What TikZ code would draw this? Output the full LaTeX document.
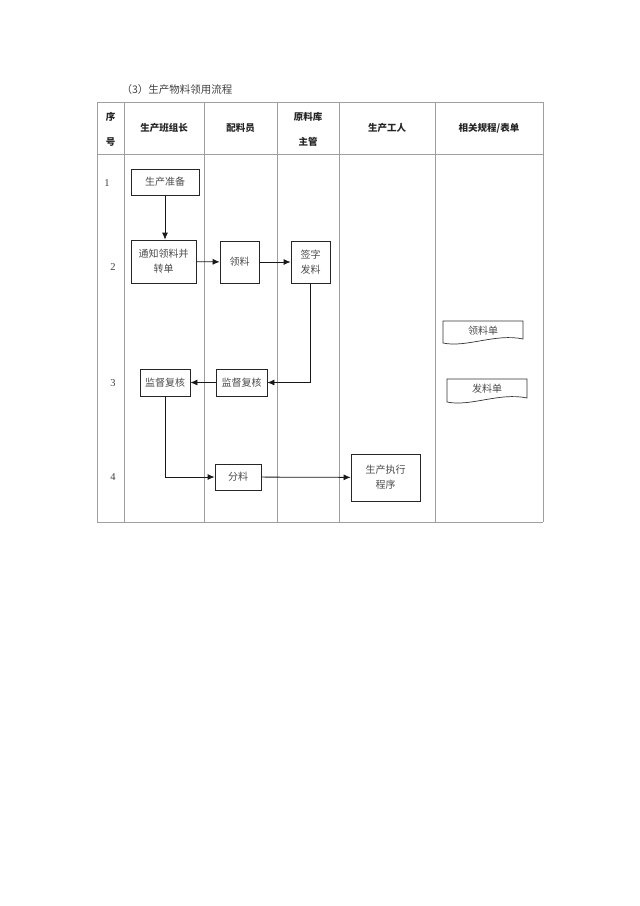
\documentclass[tikz,border=0pt]{standalone}
\usepackage{fontspec}
\setmainfont{Liberation Serif}
\newfontfamily\cjk{Noto Sans CJK SC}
\usetikzlibrary{arrows.meta}

\tikzset{
    grid line/.style={draw=gray!75, line width=1pt},
    stepbox/.style={draw=black!85, line width=0.8pt, inner sep=0pt, align=center,
        text=black!70, font=\cjk\fontsize{10}{15}\selectfont},
    head/.style={align=center, text=black!85, font=\cjk\bfseries\fontsize{9.5}{11}\selectfont},
    rowno/.style={text=black!75, font=\fontsize{10.5}{12}\selectfont},
    form/.style={draw=black!80, line width=0.7pt},
    flow/.style={-{Latex[length=7pt,width=6pt]}, line width=0.8pt, black!90},
}

\begin{document}
\begin{tikzpicture}[x=1pt, y=-1pt]
    % page size as in the scan
    \useasboundingbox (0,0) rectangle (640,906);

    % Title
    \node[anchor=west, text=black!75, font=\cjk\fontsize{10.5}{12}\selectfont] (title) at (118,90) {（3）生产物料领用流程};

    % Table frame
    \foreach \y in {102,154,522} {
        \draw[grid line] (97,\y) -- (543,\y);
    }
    \foreach \x in {97,124,204,277,339,435,543} {
        \draw[grid line] (\x,102) -- (\x,522);
    }

    % Header
    \node[head] (hno1) at (110.5,117) {序};
    \node[head] (hno2) at (110.5,142) {号};
    \node[head] (hlead) at (164,128) {生产班组长};
    \node[head] (hclerk) at (240.5,128) {配料员};
    \node[head] (hstore1) at (308,117) {原料库};
    \node[head] (hstore2) at (308,142) {主管};
    \node[head] (hwork) at (387,128) {生产工人};
    \node[head] (hrule) at (489,128) {相关规程/表单};

    % Row numbers
    \foreach \n/\x/\y in {1/107/183, 2/113/267, 3/113/383, 4/113/477} {
        \node[rowno] (row\n) at (\x,\y) {\n};
    }

    % Steps
    \node[stepbox, minimum width=68pt, minimum height=26pt] (prep) at (165,182) {生产准备};
    \node[stepbox, minimum width=65pt, minimum height=43pt] (notify) at (163.5,261.5) {通知领料并\\转单};
    \node[stepbox, minimum width=39pt, minimum height=42pt] (fetch) at (239.5,262) {领料};
    \node[stepbox, minimum width=39pt, minimum height=42pt] (sign) at (310.5,262) {签字\\发料};
    \node[stepbox, minimum width=51pt, minimum height=27pt] (checkB) at (241.5,382.5) {监督复核};
    \node[stepbox, minimum width=50pt, minimum height=27pt] (checkA) at (165,382.5) {监督复核};
    \node[stepbox, minimum width=46pt, minimum height=26pt] (split) at (238,477) {分料};
    \node[stepbox, minimum width=69pt, minimum height=47pt] (exec) at (385.5,477.5) {生产执行\\程序};

    % Forms
    \draw[form] (443,321) -- (523,321) -- (523,339)
        .. controls (496,333) and (466,348) .. (443,343) -- cycle;
    \node[text=black!70, font=\cjk\fontsize{10}{11}\selectfont] (form1) at (483,330.5) {领料单};
    \draw[form] (447,379) -- (527,379) -- (527,398)
        .. controls (500,392) and (470,407) .. (447,402) -- cycle;
    \node[text=black!70, font=\cjk\fontsize{10}{11}\selectfont] (form2) at (487,389) {发料单};

    % Flow
    \draw[flow] (prep) -- (prep |- notify.north);
    \draw[flow] (notify) -- (fetch);
    \draw[flow] (fetch) -- (sign);
    \draw[flow] (sign.south) |- (checkB.east);
    \draw[flow] (checkB) -- (checkA);
    \draw[flow] (checkA.south) |- (split.west);
    \draw[flow] (split) -- (exec);
\end{tikzpicture}
\end{document}
